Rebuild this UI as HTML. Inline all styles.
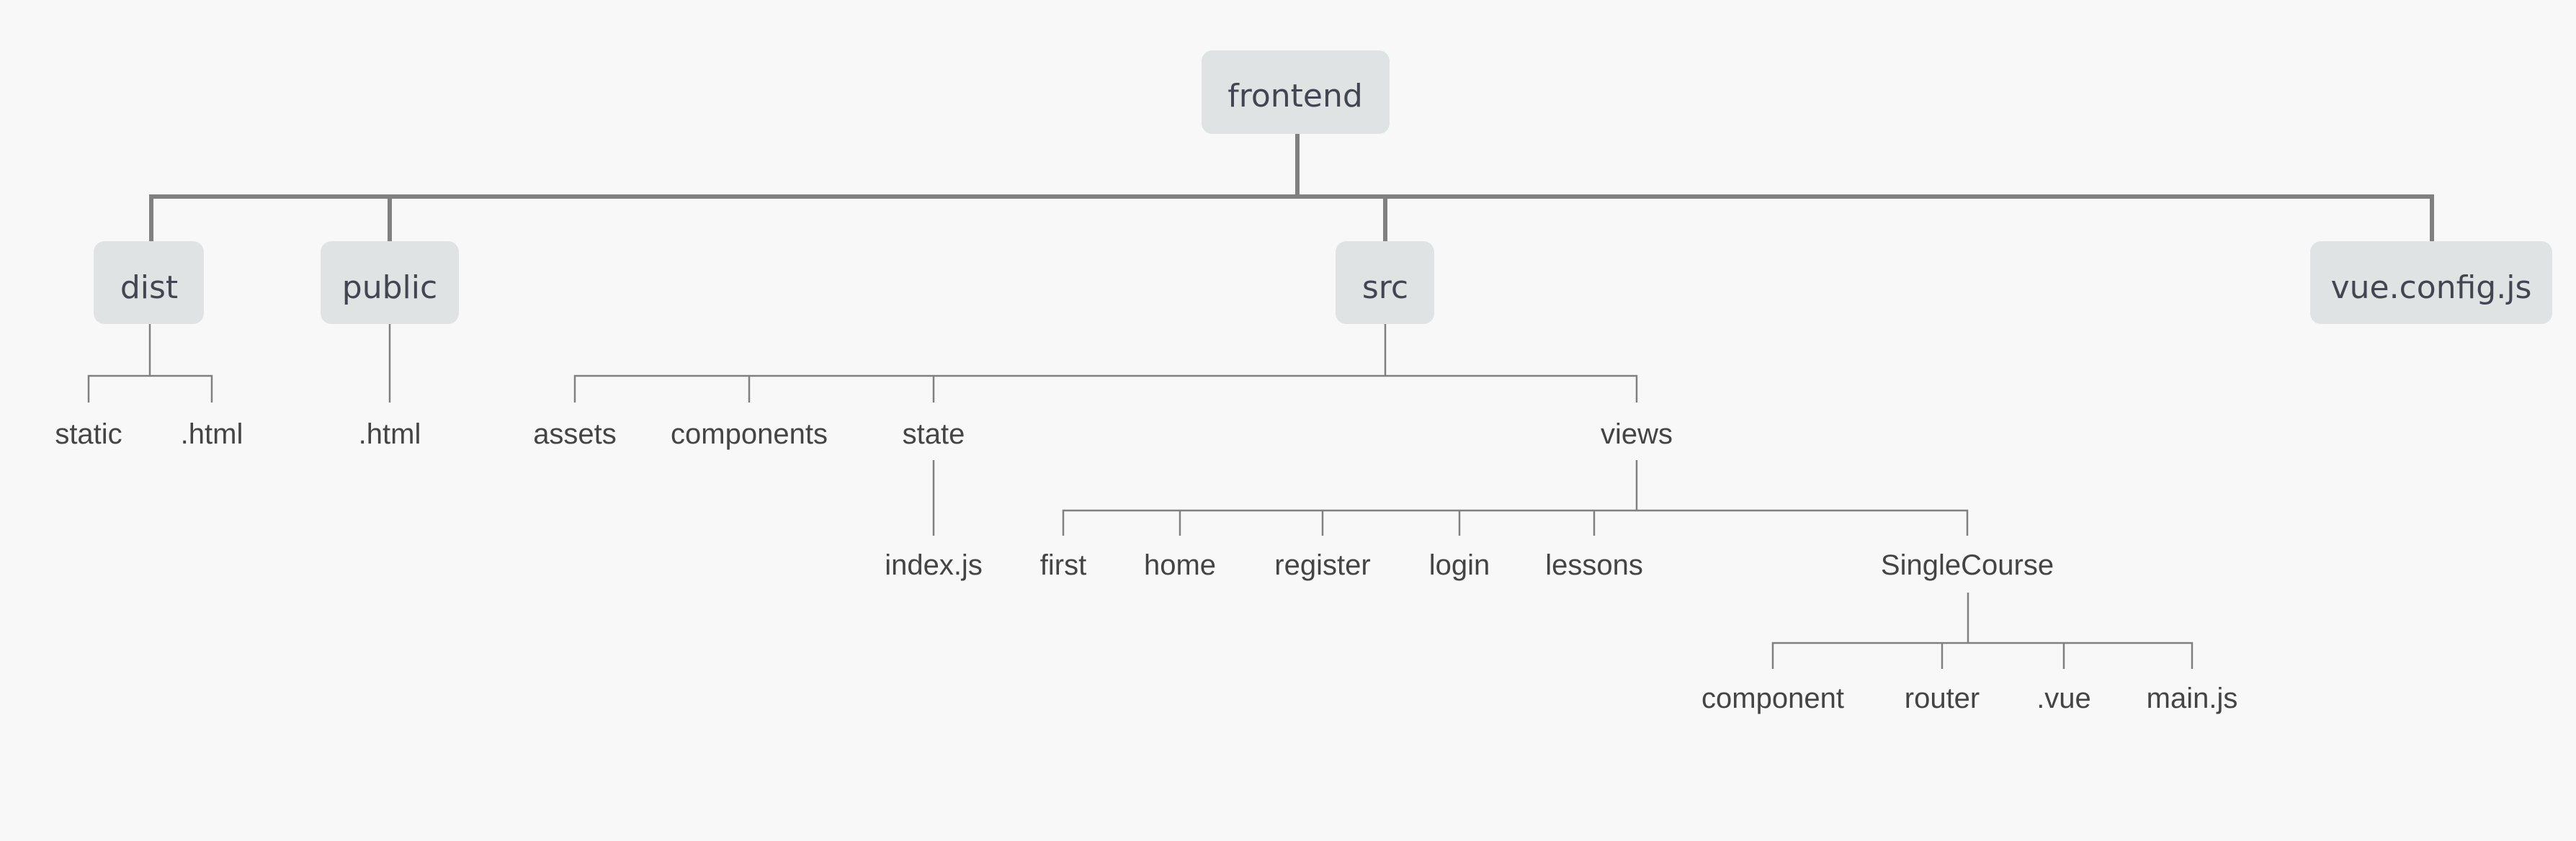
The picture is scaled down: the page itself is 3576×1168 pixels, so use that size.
<!DOCTYPE html>
<html><head><meta charset="utf-8"><style>
html,body{margin:0;padding:0;background:#f8f8f8;}
svg{display:block;}
.b{fill:#dfe3e3;}
.bt{font-family:"DejaVu Sans","Liberation Sans",sans-serif;font-size:44px;fill:#414650;text-anchor:middle;}
.t{font-family:"Liberation Sans",sans-serif;font-size:40px;fill:#444;text-anchor:middle;}
.L{stroke:#808080;stroke-width:6;fill:none;}
.l{stroke:#808080;stroke-width:2.5;fill:none;}
</style></head><body>
<svg width="3576" height="1168" viewBox="0 0 3576 1168" xmlns="http://www.w3.org/2000/svg">
<rect width="3576" height="1168" fill="#f8f8f8"/>
<path class="L" d="M1801 186 V273 M210 335 V273 H3376 V335 M541 273 V335 M1923 273 V335"/>
<rect class="b" x="1668" y="70" width="261" height="116" rx="15"/>
<text class="bt" x="1798" y="148">frontend</text>
<rect class="b" x="130" y="335" width="153" height="115" rx="15"/>
<text class="bt" x="207" y="414">dist</text>
<rect class="b" x="445" y="335" width="192" height="115" rx="15"/>
<text class="bt" x="541" y="414">public</text>
<rect class="b" x="1854" y="335" width="137" height="115" rx="15"/>
<text class="bt" x="1923" y="414">src</text>
<rect class="b" x="3207" y="335" width="336" height="115" rx="15"/>
<text class="bt" x="3375" y="414">vue.config.js</text>
<path class="l" d="M208 450 V522 M123 559 V522 H294 V559"/>
<path class="l" d="M541 450 V559"/>
<path class="l" d="M1923 450 V522 M798 559 V522 H2272 V559 M1040 522 V559 M1296 522 V559"/>
<text class="t" x="123" y="616">static</text>
<text class="t" x="294" y="616">.html</text>
<text class="t" x="541" y="616">.html</text>
<text class="t" x="798" y="616">assets</text>
<text class="t" x="1040" y="616">components</text>
<text class="t" x="1296" y="616">state</text>
<text class="t" x="2272" y="616">views</text>
<path class="l" d="M1296 639 V744"/>
<path class="l" d="M2272 639 V709 M1476 744 V709 H2731 V744 M1638 709 V744 M1836 709 V744 M2026 709 V744 M2213 709 V744"/>
<text class="t" x="1296" y="798">index.js</text>
<text class="t" x="1476" y="798">first</text>
<text class="t" x="1638" y="798">home</text>
<text class="t" x="1836" y="798">register</text>
<text class="t" x="2026" y="798">login</text>
<text class="t" x="2213" y="798">lessons</text>
<text class="t" x="2731" y="798">SingleCourse</text>
<path class="l" d="M2732 823 V893 M2461 929 V893 H3043 V929 M2696 893 V929 M2865 893 V929"/>
<text class="t" x="2461" y="983">component</text>
<text class="t" x="2696" y="983">router</text>
<text class="t" x="2865" y="983">.vue</text>
<text class="t" x="3043" y="983">main.js</text>
</svg>
</body></html>
